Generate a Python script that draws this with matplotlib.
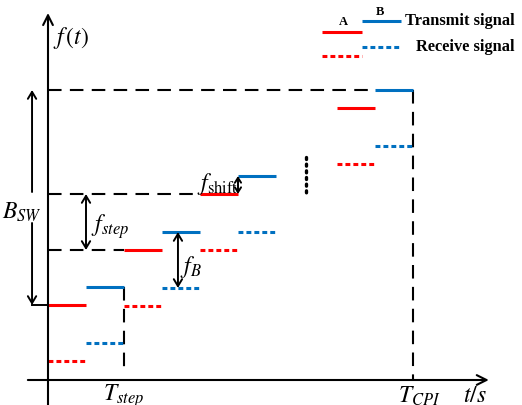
import matplotlib.pyplot as plt

plt.rcParams['mathtext.fontset'] = 'stix'
plt.rcParams['font.family'] = ['Liberation Serif', 'DejaVu Serif']

# time axis in sub-pulse units (A and B each last one unit), frequency in arbitrary units
tx_a_start = [0, 2, 4, 7.6]
tx_a_freq = [75, 130, 186, 272]
tx_b_start = [1, 3, 5, 8.6]
tx_b_freq = [93, 148, 204, 290]
rx_a_freq = [19, 74, 130, 216]
rx_b_freq = [37, 92, 148, 234]
pulse_len = 1.0
t_step = 2.0
t_cpi = 9.6
f_shift = 18
f_b = 56

RED = '#ff0000'
BLUE = '#0070c0'
DOT = (0, (1.6, 1.0))
DASH = (0, (6.5, 4.0))

fig = plt.figure(figsize=(5.22, 4.05), dpi=100)
ax = fig.add_axes([0, 0, 1, 1])
ax.set_xlim(-48 / 38, (522 - 48) / 38)
ax.set_ylim(-25, 380)
ax.axis('off')

# axes with arrows
ax.annotate('', xy=(11.6, 0), xytext=(-0.53, 0),
            arrowprops=dict(arrowstyle='->,head_length=0.7,head_width=0.35', lw=1.5, shrinkA=0, shrinkB=0))
ax.annotate('', xy=(0, 367), xytext=(0, -25),
            arrowprops=dict(arrowstyle='->,head_length=0.7,head_width=0.35', lw=1.5, shrinkA=0, shrinkB=0))

# dashed guide lines
ax.plot([0, tx_b_start[-1]], [tx_b_freq[-1]] * 2, color='k', lw=1.5, ls=DASH)
ax.plot([t_cpi, t_cpi], [tx_b_freq[-1], 0], color='k', lw=1.5, ls=DASH)
ax.plot([0, tx_a_start[2]], [tx_a_freq[2]] * 2, color='k', lw=1.5, ls=DASH)
ax.plot([0, tx_a_start[1]], [tx_a_freq[1]] * 2, color='k', lw=1.5, ls=DASH)
ax.plot([t_step, t_step], [tx_b_freq[0], 8], color='k', lw=1.5, ls=DASH)

# transmit and receive sub-pulses
for t0, fa, fb, ra, rb, tb in zip(tx_a_start, tx_a_freq, tx_b_freq, rx_a_freq, rx_b_freq, tx_b_start):
    ax.plot([t0, t0 + pulse_len], [fa, fa], color=RED, lw=2.2, solid_capstyle='butt')
    ax.plot([tb, tb + pulse_len], [fb, fb], color=BLUE, lw=2.2, solid_capstyle='butt')
    ax.plot([t0, t0 + pulse_len], [ra, ra], color=RED, lw=2.2, ls=DOT)
    ax.plot([tb, tb + pulse_len], [rb, rb], color=BLUE, lw=2.2, ls=DOT)

# vertical ellipsis between steps
ax.plot([6.79, 6.79], [223, 185], color='k', lw=2.4, ls=(0, (0.6, 1.4)), dash_capstyle='round')

arrow2 = dict(arrowstyle='<->,head_length=0.5,head_width=0.3', lw=1.4, shrinkA=0, shrinkB=0)
arrow1 = dict(arrowstyle='->,head_length=0.5,head_width=0.3', lw=1.4, shrinkA=0, shrinkB=0)

# B_SW
ax.annotate('', xy=(-0.42, tx_b_freq[-1]), xytext=(-0.42, 188), arrowprops=arrow1)
ax.annotate('', xy=(-0.42, tx_a_freq[0]), xytext=(-0.42, 157), arrowprops=arrow1)
ax.plot([-0.42, 0], [tx_a_freq[0]] * 2, color='k', lw=1.4)
ax.text(-0.68, 168, r'$B_{SW}$', fontsize=17, ha='center', va='center')

# f_step
ax.annotate('', xy=(1, tx_a_freq[2]), xytext=(1, tx_a_freq[1]), arrowprops=arrow2)
ax.text(1.14, 153, r'$f_{step}$', fontsize=17, ha='left', va='center')

# f_B
ax.annotate('', xy=(3.42, tx_b_freq[1]), xytext=(3.42, tx_b_freq[1] - f_b), arrowprops=arrow2)
ax.text(3.48, 113, r'$f_B$', fontsize=17, ha='left', va='center')

# f_shift
ax.annotate('', xy=(5.0, tx_a_freq[2] + f_shift), xytext=(5.0, tx_a_freq[2]),
            arrowprops=dict(arrowstyle='<->,head_length=0.35,head_width=0.22', lw=1.4, shrinkA=0, shrinkB=0))
ax.text(4.46, 196, r'$f_{\mathrm{shift}}$', fontsize=17, ha='center', va='center')

# axis labels
ax.text(0.12, 342, r'$f\,(t)$', fontsize=17, ha='left', va='center')
ax.text(t_step, -16, r'$T_{step}$', fontsize=17, ha='center', va='center')
ax.text(9.76, -16, r'$T_{CPI}$', fontsize=17, ha='center', va='center')
ax.text(11.24, -16, r'$t/s$', fontsize=17, ha='center', va='center')

# legend
ax.plot([7.21, 8.26], [348, 348], color=RED, lw=2.2, solid_capstyle='butt')
ax.plot([8.26, 9.29], [359, 359], color=BLUE, lw=2.2, solid_capstyle='butt')
ax.plot([7.21, 8.26], [324, 324], color=RED, lw=2.2, ls=DOT)
ax.plot([8.26, 9.29], [333, 333], color=BLUE, lw=2.2, ls=DOT)
ax.text(7.76, 358, 'A', fontsize=9, fontweight='bold', ha='center', va='center')
ax.text(8.74, 368, 'B', fontsize=9, fontweight='bold', ha='center', va='center')
ax.text(9.39, 359, 'Transmit signal', fontsize=11.8, fontweight='bold', ha='left', va='center')
ax.text(9.68, 333, 'Receive signal', fontsize=11.8, fontweight='bold', ha='left', va='center')

fig.savefig('out.png', dpi=100)
